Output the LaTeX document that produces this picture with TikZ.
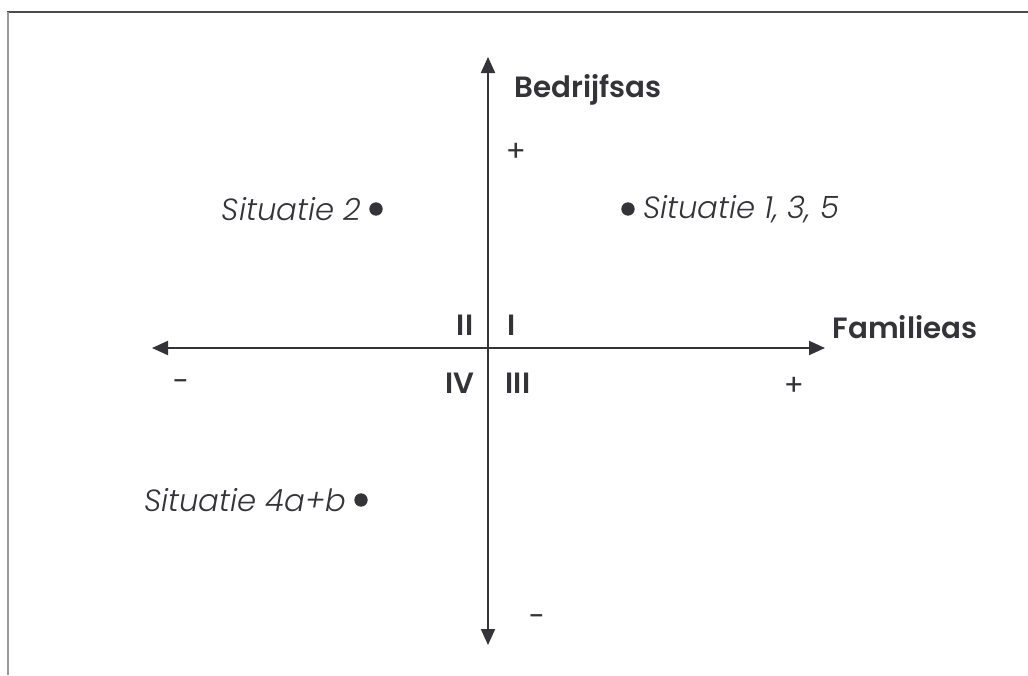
\documentclass[tikz,border=0pt]{standalone}
\usepackage{fontspec}
\setmainfont{Poppins}[ItalicFont={Poppins Light Italic}, BoldFont={Poppins SemiBold}]
\usetikzlibrary{arrows.meta,positioning}
\definecolor{ink}{HTML}{333338}

\begin{document}
\begin{tikzpicture}[x=0.75pt, y=-0.75pt, ink,
    axis/.style={line width=1.5pt, {Triangle[length=12pt,width=10.5pt]}-{Triangle[length=12pt,width=10.5pt]}},
    dot/.style={circle, fill=ink, inner sep=0pt, minimum size=10pt},
    sit/.style={font=\fontsize{23}{26}\selectfont\itshape, inner sep=2pt},
    naam/.style={font=\fontsize{22}{26}\selectfont\bfseries},
    teken/.style={font=\fontsize{22}{26}\selectfont}]
    \useasboundingbox (0,0) rectangle (1028,675);
    \draw[line width=1.5pt, black!70] (7,12) -- (1028,12);
    \draw[line width=2.2pt, black!40] (8,12) -- (8,675);

    \coordinate (links) at (152,348);
    \coordinate (rechts) at (825,348);
    \coordinate (boven) at (488,57);
    \coordinate (onder) at (488,645);
    \draw[axis] (links) -- (rechts);
    \draw[axis] (boven) -- (onder);

    \node[naam] (bedrijf) at (588,90) {Bedrijfsas};
    \node[naam] (familie) at (905,327) {Familieas};
    \node[teken] (plusy) at (516,152) {+};
    \node[teken] (miny) at (537,621) {-};
    \node[teken] (minx) at (181,386) {-};
    \node[teken] (plusx) at (794,386) {+};

    \node[naam] (q2) at (465,325) {II};
    \node[naam] (q1) at (512,325) {I};
    \node[naam] (q4) at (460,383) {IV};
    \node[naam] (q3) at (518,383) {III};

    \node[dot] (p2) at (376,209) {};
    \node[sit, left=4pt of p2] (s2) {Situatie 2};
    \node[dot] (p135) at (628,209) {};
    \node[sit, right=4pt of p135] (s135) {Situatie 1, 3, 5};
    \node[dot] (p4) at (361,500) {};
    \node[sit, left=4pt of p4] (s4) {Situatie 4a+b};
\end{tikzpicture}
\end{document}
